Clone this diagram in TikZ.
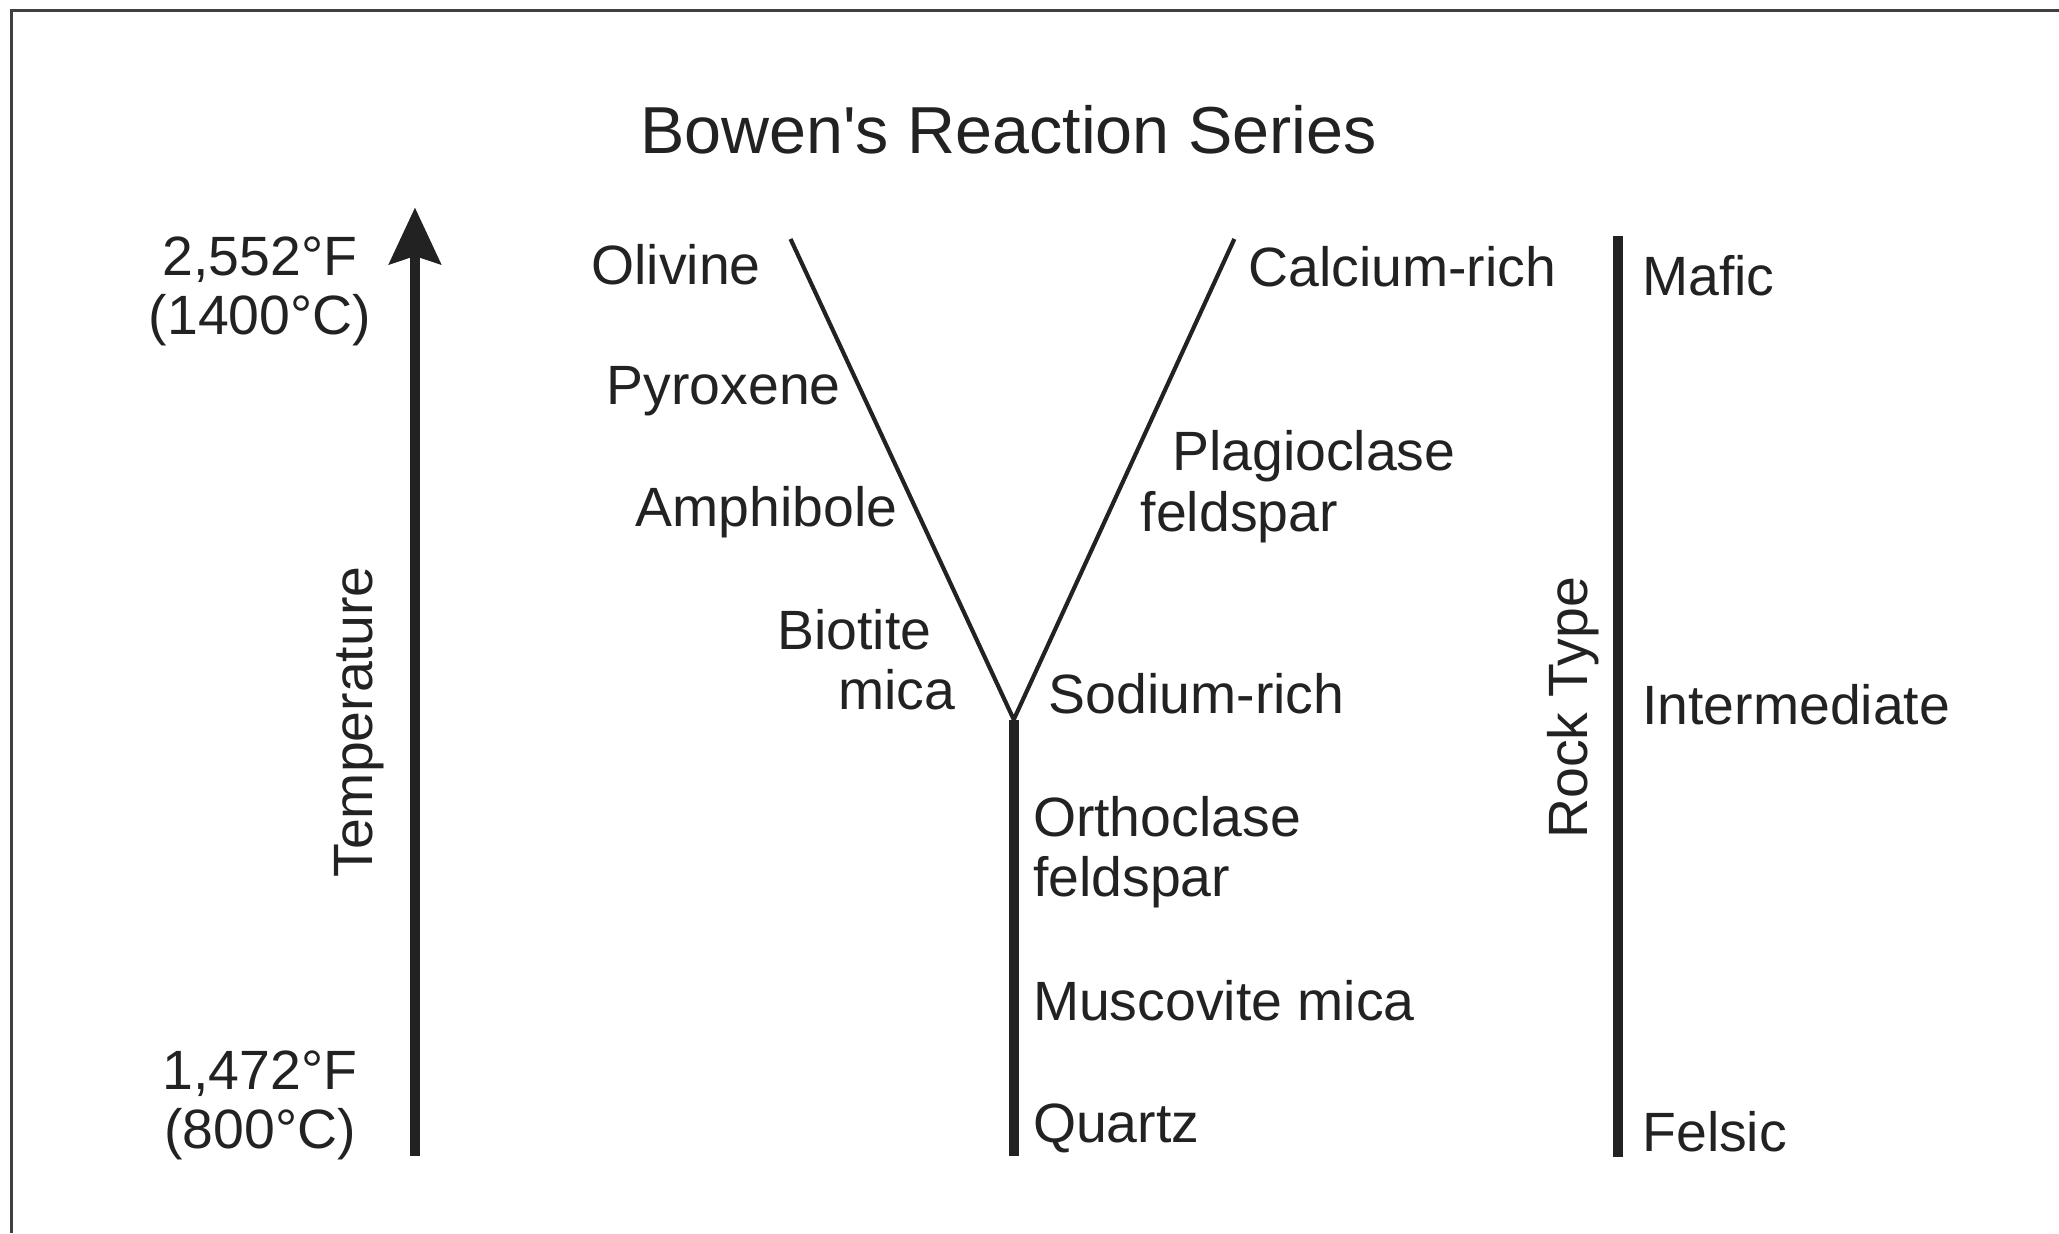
\documentclass[tikz,border=0pt]{standalone}
\usepackage{fontspec}
\setmainfont{Liberation Sans}
\usetikzlibrary{positioning,arrows.meta}

\definecolor{ink}{HTML}{222222}
\tikzset{
  lbl/.style={font=\fontsize{12}{13}\selectfont, text=ink, inner sep=0pt},
  heavy/.style={line width=2.2pt, draw=ink},
  light/.style={line width=0.9pt, draw=ink},
}

\begin{document}
\begin{tikzpicture}
\useasboundingbox (0,0) rectangle (15.68,9.39);
\draw[line width=0.7pt, draw=black!75] (0.09,0) -- (0.09,9.31) -- (15.68,9.31);

\node[lbl, font=\fontsize{14.4}{17}\selectfont, anchor=base] (title) at (7.68,8.22) {Bowen{\textquotesingle}s Reaction Series};

% temperature axis
\coordinate (t0) at (3.16,0.59);
\coordinate[above=7.22cm of t0] (t1);
\draw[heavy, -{Stealth[length=4.3mm,width=3.9mm,inset=0.6mm]}] (t0) -- (t1);
\node[lbl, anchor=base] (hiF) at (1.98,7.29) {2,552°F};
\node[lbl, anchor=base] (hiC) at (1.98,6.84) {(1400°C)};
\node[lbl, anchor=base] (loF) at (1.98,1.09) {1,472°F};
\node[lbl, anchor=base] (loC) at (1.98,0.64) {(800°C)};
\node[lbl, anchor=base, rotate=90] (temp) at (2.84,3.89) {Temperature};

% the Y
\coordinate (J) at (7.72,3.91);
\coordinate (ol) at (6.02,7.57);
\coordinate (ca) at (9.40,7.57);
\coordinate[below=3.32cm of J] (qz);
\draw[light] (ol) -- (J) -- (ca);
\draw[heavy] (J) -- (qz);

% discontinuous branch
\node[lbl, anchor=base east] (oliv) at (5.80,7.22) {Olivine};
\node[lbl, anchor=base east] (pyro) at (6.41,6.31) {Pyroxene};
\node[lbl, anchor=base east] (amph) at (6.84,5.38) {Amphibole};
\node[lbl, anchor=base east] (biot) at (7.10,4.44) {Biotite};
\node[lbl, anchor=base east] (bmica) at (7.28,3.99) {mica};

% continuous branch
\node[lbl, anchor=base west] (calc) at (9.50,7.21) {Calcium-rich};
\node[lbl, anchor=base west] (plag) at (8.92,5.81) {Plagioclase};
\node[lbl, anchor=base west] (pfeld) at (8.68,5.34) {feldspar};
\node[lbl, anchor=base west] (sodi) at (7.98,3.96) {Sodium-rich};

% stem
\node[lbl, anchor=base west] (orth) at (7.86,3.02) {Orthoclase};
\node[lbl, anchor=base west] (ofeld) at (7.86,2.56) {feldspar};
\node[lbl, anchor=base west] (musc) at (7.86,1.62) {Muscovite mica};
\node[lbl, anchor=base west] (quar) at (7.86,0.69) {Quartz};

% rock type bar
\coordinate (r0) at (12.32,0.58);
\coordinate[above=7.01cm of r0] (r1);
\draw[heavy] (r0) -- (r1);
\node[lbl, anchor=base, rotate=90] (rock) at (12.09,4.00) {Rock Type};
\node[lbl, anchor=base west] (mafic) at (12.50,7.14) {Mafic};
\node[lbl, anchor=base west] (inter) at (12.50,3.87) {Intermediate};
\node[lbl, anchor=base west] (fels) at (12.50,0.62) {Felsic};
\end{tikzpicture}
\end{document}
